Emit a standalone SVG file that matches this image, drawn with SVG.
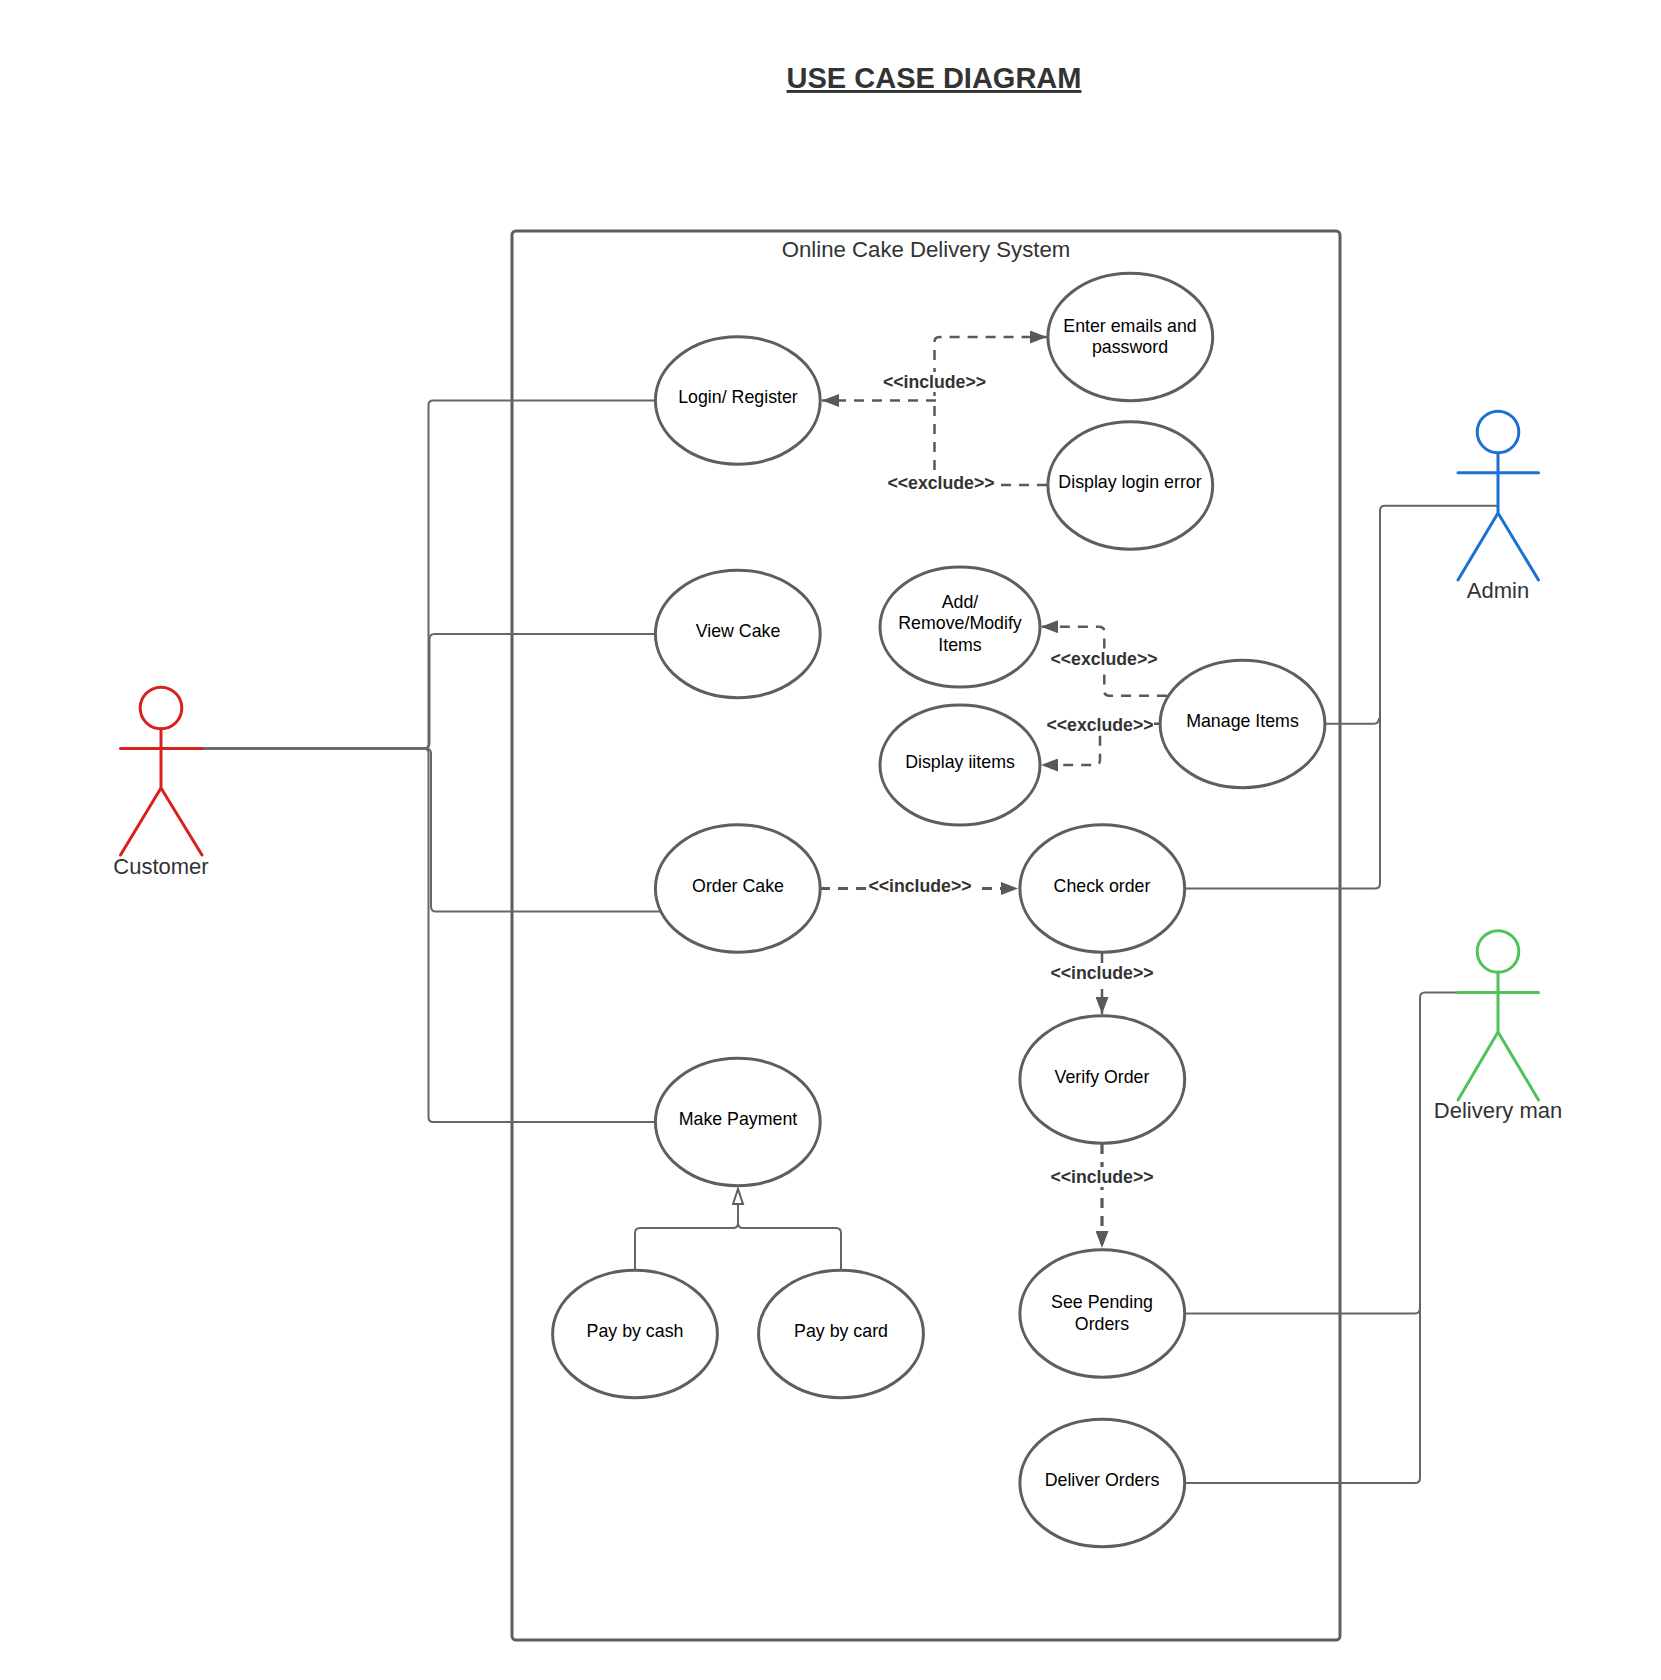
<svg xmlns="http://www.w3.org/2000/svg" width="1661" height="1680" viewBox="0 0 1661 1680">
<style>
text{font-family:"Liberation Sans",Arial,sans-serif;text-anchor:middle}
.uc{fill:#fff;stroke:#5e5e5e;stroke-width:3}
.t{font-size:17.8px;fill:#000}
.lb{font-size:17.7px;font-weight:bold;fill:#333}
.bg{fill:#fff}
.big{font-size:22px;fill:#333}
.c{fill:none;stroke:#666;stroke-width:2}
.d{fill:none;stroke:#595959;stroke-width:2.5;stroke-dasharray:10 8}
.th{stroke-width:3.2}
.a{fill:none;stroke-width:3;stroke-linecap:round}
</style>
<defs>
<marker id="ah" markerUnits="userSpaceOnUse" markerWidth="18" markerHeight="13" refX="17" refY="6.500" orient="auto"><path d="M0,0L17,6.500L0,13Z" fill="#595959"/></marker>
<marker id="hh" markerUnits="userSpaceOnUse" markerWidth="18" markerHeight="14" refX="16" refY="6.500" orient="auto"><path d="M1,1.500L16,6.500L1,11.500Z" fill="#fff" stroke="#5e5e5e" stroke-width="2"/></marker>
</defs>
<rect width="1661" height="1680" fill="#fff"/>
<text id="title" x="934" y="88" style="font-size:29px;font-weight:bold;fill:#333;text-decoration:underline">USE CASE DIAGRAM</text>
<g id="system">
<rect x="512" y="231" width="828" height="1409" rx="4" fill="none" stroke="#5e5e5e" stroke-width="3"/>
<text class="big" x="926" y="257" style="font-size:22.200px">Online Cake Delivery System</text>
</g>
<g id="connectors">
<path class="c" d="M202,748.500H424Q428.500,748.500 428.500,744V405Q428.500,400.500 433,400.500H655"/>
<path class="c" d="M202,748.500H424Q429.500,748.500 429.500,743V639Q429.500,634 434.500,634H655"/>
<path class="c" d="M202,748.500H426Q431,748.500 431,753.500V906.500Q431,911.500 436,911.500H660"/>
<path class="c" d="M202,748.500H424Q428.500,748.500 428.500,753V1117Q428.500,1122 433,1122H655"/>
<path class="c" d="M1498,505.700H1385Q1380,505.700 1380,510.700V883.500Q1380,888.500 1375,888.500H1185"/>
<path class="c" d="M1325,723.700H1374Q1379,723.700 1379,718"/>
<path class="c" d="M1458,992.500H1425Q1420,992.500 1420,997.500V1478Q1420,1483 1415,1483H1185"/>
<path class="c" d="M1185,1313.500H1415Q1420,1313.500 1420,1308"/>
<path class="c" marker-end="url(#hh)" d="M635,1270V1233Q635,1228 640,1228H733Q738,1228 738,1223V1189"/>
<path class="c" d="M841,1270V1233Q841,1228 836,1228H743Q738,1228 738,1223"/>
<path class="d" marker-end="url(#ah)" d="M936,400.500H822"/>
<path class="d" marker-end="url(#ah)" d="M934.500,396V342Q934.500,337 939.500,337H1047"/>
<path class="d" d="M1047,485H995M934.500,470V405Q934.500,400.500 930,400.500"/>
<path class="d" marker-end="url(#ah)" d="M1167,695.700H1109Q1104.300,695.700 1104.300,691V631.700Q1104.300,626.700 1099,626.700H1041"/>
<path class="d" marker-end="url(#ah)" d="M1160,723.700H1100V760Q1100,765 1095,765H1041"/>
<path class="d th" marker-end="url(#ah)" d="M820,888.500H1018"/>
<path class="d" marker-end="url(#ah)" d="M1102,953V1014"/>
<path class="d th" marker-end="url(#ah)" d="M1102,1144V1248"/>
</g>
<g id="login"><ellipse class="uc" cx="737.800" cy="400.500" rx="82.400" ry="63.700"/><text class="t" x="738" y="403">Login/ Register</text></g>
<g id="viewcake"><ellipse class="uc" cx="737.800" cy="634" rx="82.400" ry="63.700"/><text class="t" x="738" y="637">View Cake</text></g>
<g id="ordercake"><ellipse class="uc" cx="737.800" cy="888.500" rx="82.400" ry="63.700"/><text class="t" x="738" y="892">Order Cake</text></g>
<g id="makepayment"><ellipse class="uc" cx="737.800" cy="1122" rx="82.400" ry="63.700"/><text class="t" x="738" y="1125">Make Payment</text></g>
<g id="paycash"><ellipse class="uc" cx="635" cy="1334" rx="82.400" ry="63.700"/><text class="t" x="635" y="1337">Pay by cash</text></g>
<g id="paycard"><ellipse class="uc" cx="841" cy="1334" rx="82.400" ry="63.700"/><text class="t" x="841" y="1337">Pay by card</text></g>
<g id="enter"><ellipse class="uc" cx="1130.300" cy="337" rx="82.400" ry="63.700"/><text class="t" x="1130" y="332">Enter emails and</text><text class="t" x="1130" y="353">password</text></g>
<g id="loginerror"><ellipse class="uc" cx="1130.300" cy="485.500" rx="82.400" ry="63.700"/><text class="t" x="1130" y="488">Display login error</text></g>
<g id="additems"><ellipse class="uc" cx="960" cy="627" rx="80" ry="60"/><text class="t" x="960" y="608">Add/</text><text class="t" x="960" y="629">Remove/Modify</text><text class="t" x="960" y="651">Items</text></g>
<g id="displayitems"><ellipse class="uc" cx="960" cy="765" rx="80" ry="60"/><text class="t" x="960" y="768">Display iitems</text></g>
<g id="manage"><ellipse class="uc" cx="1242.500" cy="724" rx="82.400" ry="63.700"/><text class="t" x="1242.500" y="727">Manage Items</text></g>
<g id="check"><ellipse class="uc" cx="1102.300" cy="888.500" rx="82.400" ry="63.700"/><text class="t" x="1102" y="892">Check order</text></g>
<g id="verify"><ellipse class="uc" cx="1102.300" cy="1079.500" rx="82.400" ry="63.700"/><text class="t" x="1102" y="1083">Verify Order</text></g>
<g id="pending"><ellipse class="uc" cx="1102.300" cy="1313.500" rx="82.400" ry="63.700"/><text class="t" x="1102" y="1308">See Pending</text><text class="t" x="1102" y="1329.500">Orders</text></g>
<g id="deliver"><ellipse class="uc" cx="1102.300" cy="1483" rx="82.400" ry="63.700"/><text class="t" x="1102" y="1486">Deliver Orders</text></g>
<g id="labels">
<rect class="bg" x="880" y="372" width="112" height="20"/><text class="lb" x="934.500" y="388">&lt;&lt;include&gt;&gt;</text>
<rect class="bg" x="886" y="472" width="110" height="22"/><text class="lb" x="941" y="489">&lt;&lt;exclude&gt;&gt;</text>
<rect class="bg" x="1048" y="649" width="110" height="20"/><text class="lb" x="1104" y="665">&lt;&lt;exclude&gt;&gt;</text>
<rect class="bg" x="1044" y="715" width="110" height="20"/><text class="lb" x="1100" y="731">&lt;&lt;exclude&gt;&gt;</text>
<rect class="bg" x="866" y="876" width="108" height="20"/><text class="lb" x="920" y="892">&lt;&lt;include&gt;&gt;</text>
<rect class="bg" x="1048" y="963" width="108" height="20"/><text class="lb" x="1102" y="979">&lt;&lt;include&gt;&gt;</text>
<rect class="bg" x="1048" y="1167" width="108" height="20"/><text class="lb" x="1102" y="1183">&lt;&lt;include&gt;&gt;</text>
</g>
<g id="customer" stroke="#d9201c"><g class="a"><circle cx="161" cy="708" r="20.800"/><path d="M161,729V788M120.500,748.500H202M161,788L120.500,855M161,788L202,855"/></g><text class="big" x="161" y="874" stroke="none">Customer</text></g>
<g id="admin" stroke="#1c70d2"><g class="a"><circle cx="1498" cy="432" r="20.800"/><path d="M1498,453V513M1458,472.700H1538.500M1498,513L1458,580M1498,513L1538.500,580"/></g><text class="big" x="1498" y="598" stroke="none">Admin</text></g>
<g id="deliveryman" stroke="#4fc35a"><g class="a"><circle cx="1498" cy="951.500" r="20.800"/><path d="M1498,972V1032M1458,992.500H1538.500M1498,1032L1458,1100M1498,1032L1538.500,1100"/></g><text class="big" x="1498" y="1118" stroke="none">Delivery man</text></g>
</svg>
